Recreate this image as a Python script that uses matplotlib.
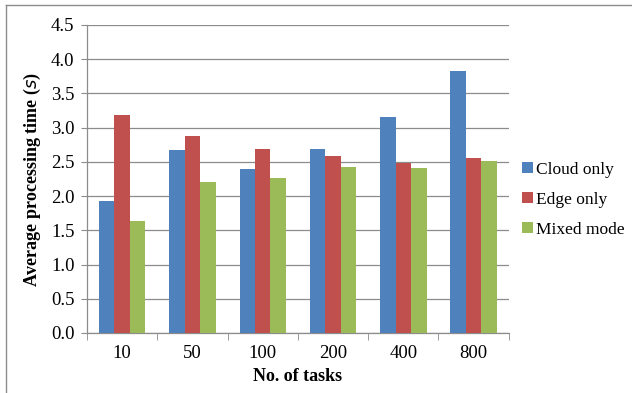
import numpy as np
import matplotlib.pyplot as plt
from matplotlib.lines import Line2D

plt.rcParams['font.family'] = ['Liberation Serif', 'DejaVu Serif']

# average processing time per task count, three deployment modes
tasks = ['10', '50', '100', '200', '400', '800']
cloud_only = [1.93, 2.67, 2.39, 2.69, 3.15, 3.83]
edge_only = [3.18, 2.88, 2.69, 2.58, 2.49, 2.55]
mixed_mode = [1.64, 2.21, 2.27, 2.43, 2.41, 2.51]

series = [('Cloud only', cloud_only, '#4F81BD'),
          ('Edge only', edge_only, '#C0504D'),
          ('Mixed mode', mixed_mode, '#9BBB59')]

fig = plt.figure(figsize=(6.32, 3.93), dpi=100)
ax = fig.add_axes([0.1377, 0.1527, 0.805 - 0.1377, 0.9364 - 0.1527])

x = np.arange(len(tasks))
w = 0.22
for i, (name, vals, col) in enumerate(series):
    ax.bar(x + (i - 1) * w, vals, width=w, color=col, label=name, zorder=3)

ax.set_xlim(-0.5, len(tasks) - 0.5)
ax.set_ylim(0, 4.5)
ax.set_yticks(np.arange(0, 4.51, 0.5))
ax.set_yticklabels([f'{v:.1f}' for v in np.arange(0, 4.51, 0.5)], fontsize=13.5)
ax.yaxis.grid(True, color='#8c8c8c', linewidth=0.9, zorder=0)

# category labels centred, tick marks between the groups
ax.set_xticks(x)
ax.set_xticklabels(tasks, fontsize=13.5)
ax.tick_params(axis='x', length=0, pad=9)
ax.set_xticks(np.arange(-0.5, len(tasks)), minor=True)
ax.tick_params(axis='x', which='minor', length=5, color='#8c8c8c', direction='out')
ax.tick_params(axis='y', length=4, color='#8c8c8c', pad=5)

for side in ['top', 'right']:
    ax.spines[side].set_visible(False)
for side in ['left', 'bottom']:
    ax.spines[side].set_color('#8c8c8c')
    ax.spines[side].set_linewidth(0.9)

ax.set_xlabel('No. of tasks', fontsize=13, fontweight='bold', labelpad=4)
ax.set_ylabel('Average processing time ($\\mathit{s}$)', fontsize=13, fontweight='bold', labelpad=6)

ax.legend(loc='center left', bbox_to_anchor=(0.995, 0.432), frameon=False, fontsize=12.5,
          handlelength=0.6, handleheight=0.6, handletextpad=0.2, labelspacing=0.8)

# chart frame
fig.add_artist(Line2D([0.0095, 1.0], [0.987, 0.987], color='#8c8c8c', linewidth=1.0))
fig.add_artist(Line2D([0.0095, 0.0095], [0.0, 0.987], color='#8c8c8c', linewidth=1.0))

fig.savefig('out.png', dpi=100)
